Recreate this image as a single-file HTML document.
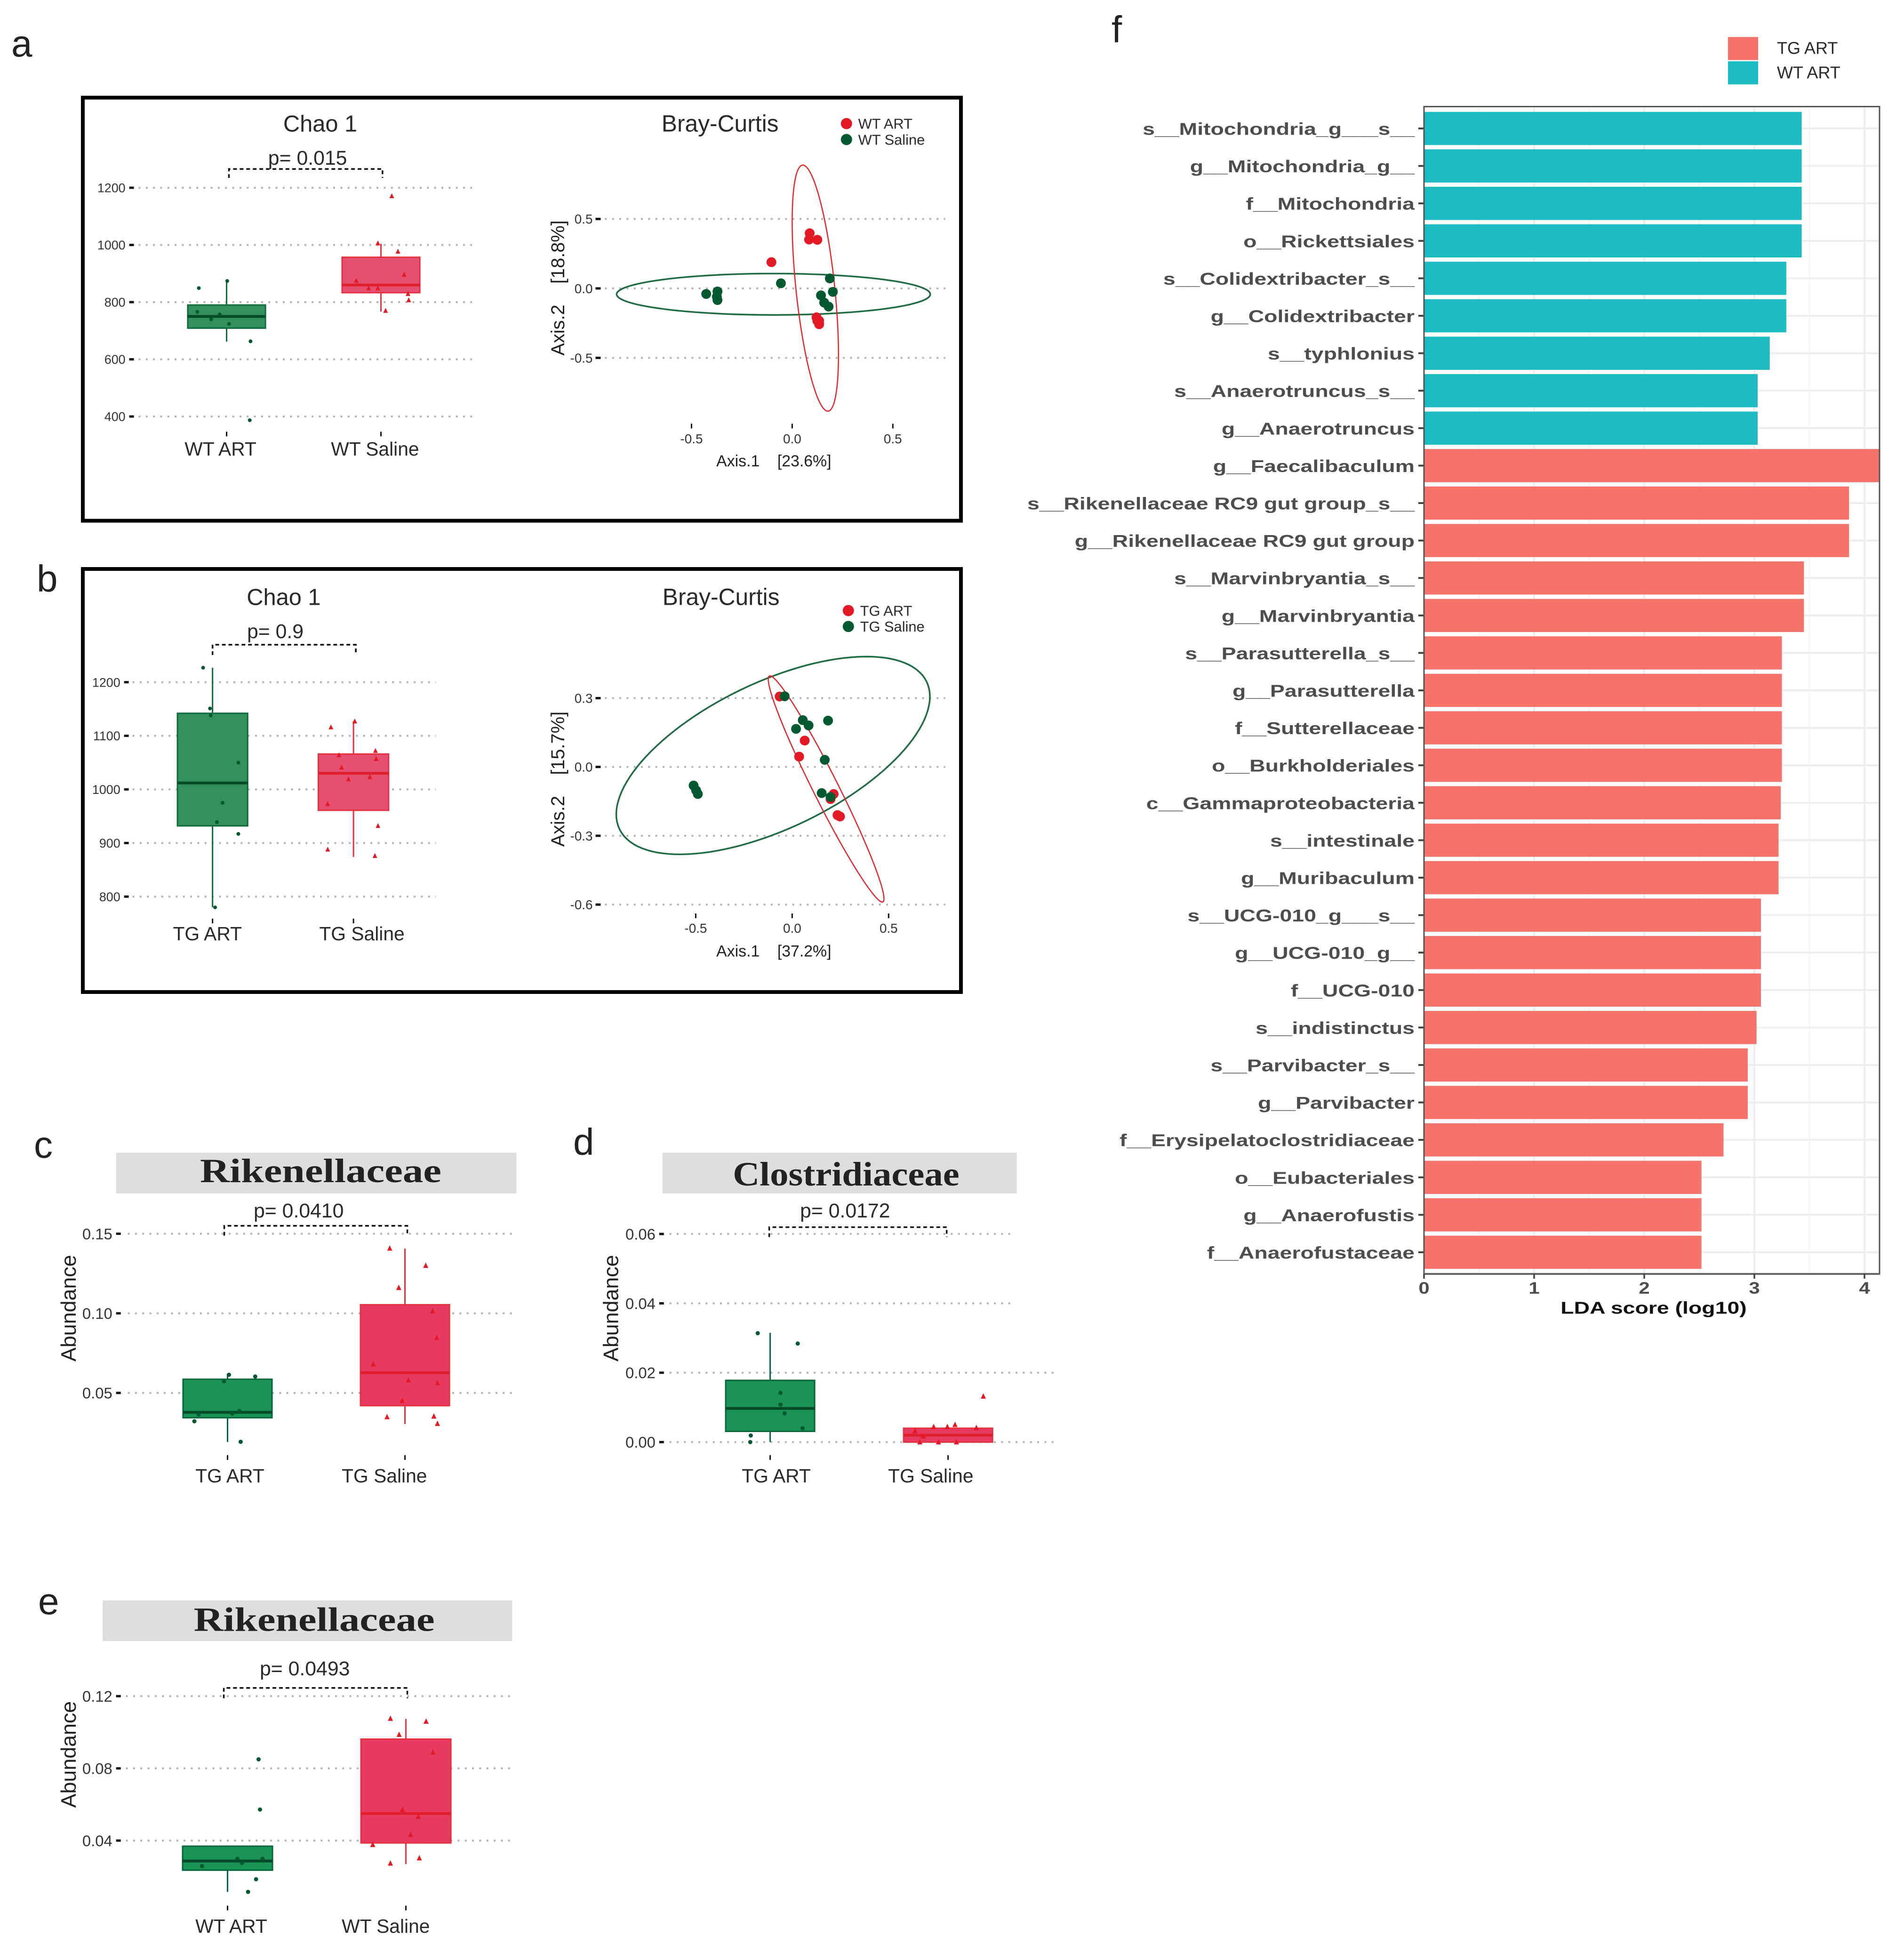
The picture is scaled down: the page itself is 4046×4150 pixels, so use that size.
<!DOCTYPE html>
<html lang="en">
<head>
<meta charset="utf-8">
<title>Microbiome figure</title>
<style>
html,body{margin:0;padding:0;background:#fff}
svg{display:block}
text{font-family:"Liberation Sans",Arial,sans-serif}
.letter{font-size:80px;fill:#222}
.strip-title{font-family:"Liberation Serif",serif;font-size:72px;font-weight:bold;fill:#222}
</style>
</head>
<body>
<svg id="figure" xmlns="http://www.w3.org/2000/svg" width="4046" height="4150" viewBox="0 0 4046 4150">
  <rect x="0" y="0" width="4046" height="4150" fill="#ffffff"/>
  <text class="letter" x="24" y="120">a</text>
  <text class="letter" x="78" y="1257">b</text>
  <text class="letter" x="72" y="2460">c</text>
  <text class="letter" x="1218" y="2454">d</text>
  <text class="letter" x="81" y="3430">e</text>
  <text class="letter" x="2362" y="90">f</text>
  <rect x="176" y="207.5" width="1866" height="899" fill="none" stroke="#000" stroke-width="8"/>
  <rect x="176" y="1209" width="1866" height="899" fill="none" stroke="#000" stroke-width="8"/>
  <rect x="246.7" y="2449.5" width="850.7" height="86.5" fill="#e0dddd"/>
  <text class="strip-title" x="681.5" y="2512" text-anchor="middle" textLength="513" lengthAdjust="spacingAndGlyphs">Rikenellaceae</text>
  <rect x="1407.8" y="2449.5" width="752.9" height="86.5" fill="#e0dddd"/>
  <text class="strip-title" x="1798" y="2519" text-anchor="middle" textLength="481.5" lengthAdjust="spacingAndGlyphs">Clostridiaceae</text>
  <rect x="218" y="3400.7" width="870.4" height="86.6" fill="#e0dddd"/>
  <text class="strip-title" x="667.6" y="3465.4" text-anchor="middle" textLength="512" lengthAdjust="spacingAndGlyphs">Rikenellaceae</text>
  <g id="charts"></g>
</svg>
<script>
// ---------- Panel a: Chao 1 ----------
const aChaoCategories = ['WT ART', 'WT Saline'];
const aChaoTicks = [400, 600, 800, 1000, 1200];
const aChaoTickLabels = ['400', '600', '800', '1000', '1200'];
const aChaoQ1 = [709, 833];
const aChaoMedian = [750, 860];
const aChaoQ3 = [790, 957];
const aChaoWhiskerLow = [662, 767];
const aChaoWhiskerHigh = [878, 1004];
const aChaoGreenValues = [849, 766, 740, 757, 724, 874, 663, 387];
const aChaoGreenJitter = [-0.18, -0.19, -0.10, -0.045, 0.016, 0.004, 0.155, 0.15];
const aChaoRedValues = [1171, 1006, 977, 875, 896, 849, 849, 829, 807, 770];
const aChaoRedJitter = [0.07, -0.02, 0.11, -0.16, 0.15, -0.08, -0.02, 0.175, 0.18, 0.03];

// ---------- Panel a: Bray-Curtis ----------
const aBrayTicksX = [-0.5, 0, 0.5];
const aBrayTickLabelsX = ['-0.5', '0.0', '0.5'];
const aBrayTicksY = [-0.5, 0, 0.5];
const aBrayTickLabelsY = ['-0.5', '0.0', '0.5'];
const aBrayLegend = ['WT ART', 'WT Saline'];
const aBrayRedX = [0.087, 0.084, 0.125, -0.103, 0.121, 0.134, 0.134, 0.125];
const aBrayRedY = [0.397, 0.352, 0.35, 0.189, -0.208, -0.233, -0.258, -0.233];
const aBrayGreenX = [-0.427, -0.371, -0.374, -0.371, -0.056, 0.187, 0.202, 0.143, 0.159, 0.181];
const aBrayGreenY = [-0.04, -0.022, -0.06, -0.084, 0.037, 0.072, -0.025, -0.05, -0.102, -0.131];
const aBrayRedEllipse = {cx: 0.115, cy: 0.002, ax: 0.115, ay: 0.886, rho: -0.54};
const aBrayGreenEllipse = {cx: -0.093, cy: -0.042, ax: 0.779, ay: 0.149, rho: 0};

// ---------- Panel b: Chao 1 ----------
const bChaoCategories = ['TG ART', 'TG Saline'];
const bChaoTicks = [800, 900, 1000, 1100, 1200];
const bChaoTickLabels = ['800', '900', '1000', '1100', '1200'];
const bChaoQ1 = [932, 961];
const bChaoMedian = [1012, 1030];
const bChaoQ3 = [1142, 1066];
const bChaoWhiskerLow = [780, 874];
const bChaoWhiskerHigh = [1227, 1127];
const bChaoGreenValues = [1227, 1151, 1138, 1050, 975, 939, 917, 780];
const bChaoGreenJitter = [-0.067, -0.018, -0.013, 0.183, 0.071, 0.031, 0.183, 0.018];
const bChaoRedValues = [1116, 1127, 1072, 1057, 1064, 1041, 1019, 1023, 973, 932, 888, 876];
const bChaoRedJitter = [-0.16, 0.009, 0.156, 0.161, -0.103, -0.085, -0.036, 0.116, -0.183, 0.174, -0.183, 0.152];

// ---------- Panel b: Bray-Curtis ----------
const bBrayTicksX = [-0.5, 0, 0.5];
const bBrayTickLabelsX = ['-0.5', '0.0', '0.5'];
const bBrayTicksY = [-0.6, -0.3, 0, 0.3];
const bBrayTickLabelsY = ['-0.6', '-0.3', '0.0', '0.3'];
const bBrayLegend = ['TG ART', 'TG Saline'];
const bBrayRedX = [-0.065, 0.065, 0.036, 0.215, 0.199, 0.235, 0.248];
const bBrayRedY = [0.307, 0.115, 0.045, -0.118, -0.14, -0.21, -0.216];
const bBrayGreenX = [-0.039, 0.055, 0.085, 0.02, 0.186, 0.169, 0.153, 0.199, -0.511, -0.498, -0.489];
const bBrayGreenY = [0.308, 0.204, 0.181, 0.166, 0.202, 0.031, -0.114, -0.131, -0.081, -0.102, -0.118];
const bBrayRedEllipse = {cx: 0.176, cy: -0.096, ax: 0.30, ay: 0.493, rho: -0.97};
const bBrayGreenEllipse = {cx: -0.099, cy: 0.05, ax: 0.813, ay: 0.431, rho: 0.595};

// ---------- Panel c ----------
const cCategories = ['TG ART', 'TG Saline'];
const cTicks = [0.05, 0.10, 0.15];
const cTickLabels = ['0.05', '0.10', '0.15'];
const cQ1 = [0.0344, 0.042];
const cMedian = [0.0378, 0.0627];
const cQ3 = [0.0586, 0.1054];
const cWhiskerLow = [0.0192, 0.0305];
const cWhiskerHigh = [0.062, 0.1407];
const cGreenValues = [0.0614, 0.0573, 0.0603, 0.0386, 0.037, 0.0364, 0.0322, 0.0193];
const cGreenJitter = [0.008, -0.02, 0.156, 0.066, 0.027, -0.163, -0.187, 0.074];
const cRedValues = [0.1408, 0.13, 0.1161, 0.1014, 0.0847, 0.0681, 0.058, 0.0563, 0.0451, 0.0349, 0.0353, 0.0307];
const cRedJitter = [-0.086, 0.117, -0.035, 0.156, 0.179, -0.179, 0.019, 0.183, -0.016, -0.101, 0.163, 0.183];

// ---------- Panel d ----------
const dCategories = ['TG ART', 'TG Saline'];
const dTicks = [0, 0.02, 0.04, 0.06];
const dTickLabels = ['0.00', '0.02', '0.04', '0.06'];
const dQ1 = [0.0031, 0];
const dMedian = [0.0097, 0.002];
const dQ3 = [0.0178, 0.004];
const dWhiskerLow = [0, 0];
const dWhiskerHigh = [0.0315, 0.004];
const dGreenValues = [0.0314, 0.0284, 0.0142, 0.0108, 0.0083, 0.004, 0.0019, 0];
const dGreenJitter = [-0.07, 0.155, 0.058, 0.058, 0.081, 0.182, -0.109, -0.112];
const dRedValues = [0.0132, 0.005, 0.0044, 0.0041, 0.0044, 0.0032, 0.0017, 0, 0, 0];
const dRedJitter = [0.198, 0.039, -0.081, 0.159, -0.004, -0.186, -0.14, -0.159, -0.054, 0.047];

// ---------- Panel e ----------
const eCategories = ['WT ART', 'WT Saline'];
const eTicks = [0.04, 0.08, 0.12];
const eTickLabels = ['0.04', '0.08', '0.12'];
const eQ1 = [0.0236, 0.0387];
const eMedian = [0.0287, 0.055];
const eQ3 = [0.0369, 0.0962];
const eWhiskerLow = [0.0116, 0.027];
const eWhiskerHigh = [0.0369, 0.1074];
const eGreenValues = [0.085, 0.0572, 0.0299, 0.0299, 0.0276, 0.0259, 0.0186, 0.0116];
const eGreenJitter = [0.174, 0.182, 0.055, 0.196, 0.081, -0.143, 0.16, 0.115];
const eRedValues = [0.1076, 0.106, 0.0987, 0.0889, 0.0572, 0.0532, 0.0433, 0.0377, 0.0303, 0.0274];
const eRedJitter = [-0.087, 0.113, -0.038, 0.152, -0.02, 0.069, 0.026, -0.186, 0.075, -0.087];

// ---------- Panel f: LDA ----------
const fLabels = ['s__Mitochondria_g___s__', 'g__Mitochondria_g__', 'f__Mitochondria', 'o__Rickettsiales', 's__Colidextribacter_s__', 'g__Colidextribacter', 's__typhlonius', 's__Anaerotruncus_s__', 'g__Anaerotruncus', 'g__Faecalibaculum', 's__Rikenellaceae RC9 gut group_s__', 'g__Rikenellaceae RC9 gut group', 's__Marvinbryantia_s__', 'g__Marvinbryantia', 's__Parasutterella_s__', 'g__Parasutterella', 'f__Sutterellaceae', 'o__Burkholderiales', 'c__Gammaproteobacteria', 's__intestinale', 'g__Muribaculum', 's__UCG-010_g___s__', 'g__UCG-010_g__', 'f__UCG-010', 's__indistinctus', 's__Parvibacter_s__', 'g__Parvibacter', 'f__Erysipelatoclostridiaceae', 'o__Eubacteriales', 'g__Anaerofustis', 'f__Anaerofustaceae'];
const fValues = [3.43, 3.43, 3.43, 3.43, 3.29, 3.29, 3.14, 3.03, 3.03, 4.14, 3.86, 3.86, 3.45, 3.45, 3.25, 3.25, 3.25, 3.25, 3.24, 3.22, 3.22, 3.06, 3.06, 3.06, 3.02, 2.94, 2.94, 2.72, 2.52, 2.52, 2.52];
const fGroups = ['WT ART', 'WT ART', 'WT ART', 'WT ART', 'WT ART', 'WT ART', 'WT ART', 'WT ART', 'WT ART', 'TG ART', 'TG ART', 'TG ART', 'TG ART', 'TG ART', 'TG ART', 'TG ART', 'TG ART', 'TG ART', 'TG ART', 'TG ART', 'TG ART', 'TG ART', 'TG ART', 'TG ART', 'TG ART', 'TG ART', 'TG ART', 'TG ART', 'TG ART', 'TG ART', 'TG ART'];
const fTicks = [0, 1, 2, 3, 4];
const fTickLabels = ['0', '1', '2', '3', '4'];
const fMinorTicks = [0.5, 1.5, 2.5, 3.5];
const fLegendGroups = ['TG ART', 'WT ART'];

const SVG_NS = 'http://www.w3.org/2000/svg';
const root = document.getElementById('charts');

function make(tag, parent) {
  const node = document.createElementNS(SVG_NS, tag);
  parent.appendChild(node);
  return node;
}
function set(node, attrs) {
  for (const k in attrs) node.setAttribute(k, attrs[k]);
  return node;
}
function linearAxis(d0, d1, r0, r1) {
  return function (v) { return r0 + (v - d0) * (r1 - r0) / (d1 - d0); };
}
function write(parent, str, x, y, size, anchor, fill, weight) {
  const t = make('text', parent);
  set(t, {x: x, y: y, 'font-size': size, 'text-anchor': anchor || 'start', fill: fill || '#2a2a2a'});
  if (weight) t.setAttribute('font-weight', weight);
  t.textContent = str;
  return t;
}
function triangle(x, y, s) {
  return (x) + ',' + (y - s * 0.6) + ' ' + (x + s * 0.5) + ',' + (y + s * 0.45) + ' ' + (x - s * 0.5) + ',' + (y + s * 0.45);
}
const dotPattern = '4 11.4';

function drawBoxChart(c) {
  const g = make('g', root);
  
  
  g.setAttribute('transform', c.fit);
  const y = linearAxis(c.domain0, c.domain1, c.range0, c.range1);
  const xc = function (i) { return c.x0 + i * c.xStep; };

  c.ticks.forEach(function (v, i) {
    const grid = make('line', g);
    const right = (c.lowGridRight && v < c.lowGridBelow) ? c.lowGridRight : c.gridRight;
    set(grid, {x1: c.gridLeft, x2: right, y1: y(v), y2: y(v), stroke: '#b3b3b3', 'stroke-width': 4, 'stroke-dasharray': dotPattern});
    
    
    const tick = make('line', g);
    set(tick, {x1: c.tickLeft, x2: c.tickLeft + 10, y1: y(v), y2: y(v), stroke: '#111', 'stroke-width': 5});
    
    
    const lab = write(g, c.tickLabels[i], c.tickLeft - 8, y(v) + c.tickSize * 0.36, c.tickSize, 'end', '#333');
    
    
  });

  [0, 1].forEach(function (i) {
    const stroke = i === 0 ? c.greenStroke : c.redStroke;
    const fill = i === 0 ? c.greenFill : c.redFill;
    const median = i === 0 ? '#034a28' : '#e01f2d';
    const whisker = make('path', g);
    set(whisker, {d: 'M' + xc(i) + ' ' + y(c.whiskerLow[i]) + 'V' + y(c.q1[i]) + 'M' + xc(i) + ' ' + y(c.q3[i]) + 'V' + y(c.whiskerHigh[i]), fill: 'none', stroke: stroke, 'stroke-width': 3});
    
    
    const box = make('rect', g);
    set(box, {x: xc(i) - c.boxWidth / 2, width: c.boxWidth, y: y(c.q3[i]), height: y(c.q1[i]) - y(c.q3[i]), fill: fill, stroke: stroke, 'stroke-width': 3, 'fill-opacity': 0.96});
    
    
    const med = make('line', g);
    set(med, {x1: xc(i) - c.boxWidth / 2, x2: xc(i) + c.boxWidth / 2, y1: y(c.median[i]), y2: y(c.median[i]), stroke: median, 'stroke-width': 6});
    
    
    const tk = make('line', g);
    set(tk, {x1: xc(i), x2: xc(i), y1: c.xTickTop, y2: c.xTickTop + 10, stroke: '#111', 'stroke-width': 3});
    
    
    const cat = write(g, c.categories[i], i === 0 ? c.labelCenterA : c.labelCenterB, c.labelBaseline, 41, 'middle', '#2a2a2a');
    
    
  });

  c.greenValues.forEach(function (v, i) {
    const p = make('circle', g);
    set(p, {cx: xc(0) + c.greenJitter[i] * c.xStep, cy: y(v), r: c.dotRadius, fill: '#00582f'});
    
    
  });
  c.redValues.forEach(function (v, i) {
    const p = make('polygon', g);
    set(p, {points: triangle(xc(1) + c.redJitter[i] * c.xStep, y(v), c.triangleSize), fill: '#e31a25'});
    
    
  });

  const bracket = make('path', g);
  set(bracket, {d: 'M' + c.bracketLeft + ' ' + c.bracketEnd + 'V' + c.bracketTop + 'H' + c.bracketRight + 'V' + c.bracketEnd, fill: 'none', stroke: '#111', 'stroke-width': 3.5, 'stroke-dasharray': '8 6'});
  
  
  const p = write(g, c.pText, c.pCenter, c.pBaseline, 43, 'middle', '#2a2a2a');
  
  

  if (c.title) {
    const t = write(g, c.title, c.titleCenter, c.titleBaseline, 49, 'middle', '#2a2a2a');
    
    
  }
  if (c.yTitleX) {
    const t = write(g, 'Abundance', c.yTitleX, c.yTitleY, 45, 'middle', '#222');
    t.setAttribute('transform', 'rotate(-90 ' + c.yTitleX + ' ' + c.yTitleY + ')');
    
    
  }
}

function ellipsePath(e, x, y) {
  let d = '';
  const phase = Math.acos(e.rho);
  for (let k = 0; k <= 120; k++) {
    const t = k / 120 * Math.PI * 2;
    const px = x(e.cx + e.ax * Math.cos(t));
    const py = y(e.cy + e.ay * Math.cos(t - phase));
    d += (k === 0 ? 'M' : 'L') + px.toFixed(1) + ' ' + py.toFixed(1);
  }
  return d + 'Z';
}

function drawOrdination(c) {
  const g = make('g', root);
  
  
  g.setAttribute('transform', c.fit);
  const x = linearAxis(0, 0.5, c.xZero, c.xHalf);
  const y = linearAxis(0, 0.3, c.yZero, c.yPointThree);

  c.ticksY.forEach(function (v, i) {
    const grid = make('line', g);
    set(grid, {x1: 1292, x2: 2019, y1: y(v), y2: y(v), stroke: '#b3b3b3', 'stroke-width': 4, 'stroke-dasharray': dotPattern});
    
    
    const tick = make('line', g);
    set(tick, {x1: 1272, x2: 1283, y1: y(v), y2: y(v), stroke: '#111', 'stroke-width': 5});
    
    
    const lab = write(g, c.tickLabelsY[i], 1266, y(v) + 10, 28, 'end', '#333');
    
    
  });
  c.ticksX.forEach(function (v, i) {
    const tick = make('line', g);
    set(tick, {x1: x(v), x2: x(v), y1: c.xTickTop, y2: c.xTickTop + 10, stroke: '#111', 'stroke-width': 3});
    
    
    const lab = write(g, c.tickLabelsX[i], x(v), c.xTickBaseline, 28, 'middle', '#333');
    
    
  });

  const eg = make('path', g);
  set(eg, {d: ellipsePath(c.greenEllipse, x, y), fill: 'none', stroke: '#1f6b42', 'stroke-width': 3.5});
  
  
  const er = make('path', g);
  set(er, {d: ellipsePath(c.redEllipse, x, y), fill: 'none', stroke: '#e0262b', 'stroke-width': 2.5});
  
  

  c.redX.forEach(function (v, i) {
    const p = make('circle', g);
    set(p, {cx: x(v), cy: y(c.redY[i]), r: 10.5, fill: '#e31a25'});
    
    
  });
  c.greenX.forEach(function (v, i) {
    const p = make('circle', g);
    set(p, {cx: x(v), cy: y(c.greenY[i]), r: 10.5, fill: '#035a30'});
    
    
  });

  const title = write(g, 'Bray-Curtis', c.titleCenter, c.titleBaseline, 50, 'middle', '#2a2a2a');
  
  

  const xt = write(g, c.xTitle, 1530, c.xTitleBaseline, 34, 'start', '#222');
  
  
  const yt = write(g, c.yTitle, 1205, c.yTitleCenter, 40, 'middle', '#222');
  yt.setAttribute('transform', 'rotate(-90 1205 ' + c.yTitleCenter + ')');
  
  

  c.legend.forEach(function (name, i) {
    const cy = i === 0 ? c.legendY0 : c.legendY1;
    const dot = make('circle', g);
    set(dot, {cx: c.legendX, cy: cy, r: 12, fill: i === 0 ? '#e31a25' : '#035a30'});
    
    
    const lt = write(g, name, c.legendX + 25, cy + 11, 31, 'start', '#2a2a2a');
    
    
  });
}

function drawLda() {
  const g = make('g', root);
  
  
  const left = 3026, right = 3994, top = 226.5, bottom = 2707;
  const x = linearAxis(0, 4, left, 3962);
  const yc = function (i) { return 273 + i * 79.6; };
  const barH = 70.5;

  fMinorTicks.forEach(function (v) {
    const m = make('line', g);
    set(m, {x1: x(v), x2: x(v), y1: top, y2: bottom, stroke: '#f3f3f3', 'stroke-width': 2});
    
    
  });
  fTicks.forEach(function (v) {
    const m = make('line', g);
    set(m, {x1: x(v), x2: x(v), y1: top, y2: bottom, stroke: '#ececec', 'stroke-width': 3.5});
    
    
  });
  fLabels.forEach(function (name, i) {
    const h = make('line', g);
    set(h, {x1: left, x2: right, y1: yc(i), y2: yc(i), stroke: '#eeeeee', 'stroke-width': 4});
    
    
  });
  fLabels.forEach(function (name, i) {
    const bar = make('rect', g);
    set(bar, {x: left, y: yc(i) - barH / 2, width: x(fValues[i]) - left, height: barH, fill: fGroups[i] === 'WT ART' ? '#1dbcc3' : '#f5736b'});
    
    
    const tick = make('line', g);
    set(tick, {x1: left - 12, x2: left, y1: yc(i), y2: yc(i), stroke: '#444', 'stroke-width': 4});
    
    
    const t = write(g, name, 0, 0, 36, 'end', '#4d4d4d', 'bold');
    t.setAttribute('transform', 'translate(3006 ' + (yc(i) + 13.5) + ') scale(1.29 1)');
    
    
  });
  const border = make('rect', g);
  set(border, {x: left, y: top, width: right - left, height: bottom - top, fill: 'none', stroke: '#555', 'stroke-width': 3});
  
  
  const axis = make('line', g);
  set(axis, {x1: left, x2: right, y1: bottom, y2: bottom, stroke: '#666', 'stroke-width': 4});
  
  

  fTicks.forEach(function (v, i) {
    const tk = make('line', g);
    set(tk, {x1: x(v), x2: x(v), y1: bottom, y2: bottom + 10, stroke: '#444', 'stroke-width': 3.5});
    
    
    const t = write(g, fTickLabels[i], 0, 0, 35, 'middle', '#4d4d4d', 'bold');
    t.setAttribute('transform', 'translate(' + x(v) + ' 2749) scale(1.2 1)');
    
    
  });
  const xt = write(g, 'LDA score (log10)', 0, 0, 36, 'middle', '#111', 'bold');
  xt.setAttribute('transform', 'translate(3514 2791.5) scale(1.29 1)');
  
  

  fLegendGroups.forEach(function (name, i) {
    const sy = i === 0 ? 78.6 : 130.3;
    const sw = make('rect', g);
    set(sw, {x: 3672, y: sy, width: 64, height: 49, fill: name === 'WT ART' ? '#1dbcc3' : '#f5736b'});
    
    
    const t = write(g, name, 3776, sy + 36, 36, 'start', '#2a2a2a');
    
    
  });
}

const softGreen = {greenFill: '#2b8a55', greenStroke: '#0f6a3c', redFill: '#e5496a', redStroke: '#e6303f', dotRadius: 4, triangleSize: 10};
const deepGreen = {greenFill: '#118f50', greenStroke: '#04643a', redFill: '#e5325a', redStroke: '#e6303f', dotRadius: 4.5, triangleSize: 11};

drawBoxChart(Object.assign({
  name: 'panel-a-chao', fit: 'scale(0.9949)', categories: aChaoCategories, ticks: aChaoTicks, tickLabels: aChaoTickLabels,
  q1: aChaoQ1, median: aChaoMedian, q3: aChaoQ3, whiskerLow: aChaoWhiskerLow, whiskerHigh: aChaoWhiskerHigh,
  greenValues: aChaoGreenValues, greenJitter: aChaoGreenJitter, redValues: aChaoRedValues, redJitter: aChaoRedJitter,
  domain0: 400, domain1: 1200, range0: 889.6, range1: 401, x0: 484, xStep: 329.7, boxWidth: 166,
  gridLeft: 296, gridRight: 1010, tickLeft: 276, tickSize: 27, xTickTop: 922,
  labelCenterA: 471, labelCenterB: 801, labelBaseline: 973,
  bracketLeft: 489, bracketRight: 817, bracketTop: 361, bracketEnd: 380,
  pText: 'p= 0.015', pCenter: 657, pBaseline: 352, title: 'Chao 1', titleCenter: 684, titleBaseline: 281
}, softGreen));

drawOrdination({
  name: 'panel-a-bray', fit: 'scale(0.9949)', ticksX: aBrayTicksX, tickLabelsX: aBrayTickLabelsX, ticksY: aBrayTicksY, tickLabelsY: aBrayTickLabelsY,
  redX: aBrayRedX, redY: aBrayRedY, greenX: aBrayGreenX, greenY: aBrayGreenY,
  redEllipse: aBrayRedEllipse, greenEllipse: aBrayGreenEllipse, legend: aBrayLegend,
  xZero: 1692, xHalf: 1907, yZero: 616, yPointThree: 527,
  xTickTop: 905, xTickBaseline: 947, titleCenter: 1538, titleBaseline: 281,
  xTitle: 'Axis.1\u00a0\u00a0\u00a0\u00a0[23.6%]', xTitleBaseline: 996,
  yTitle: 'Axis.2\u00a0\u00a0\u00a0\u00a0[18.8%]', yTitleCenter: 615,
  legendX: 1808, legendY0: 264, legendY1: 298
});

drawBoxChart(Object.assign({
  name: 'panel-b-chao', fit: 'translate(0 6.02) scale(0.9949)', categories: bChaoCategories, ticks: bChaoTicks, tickLabels: bChaoTickLabels,
  q1: bChaoQ1, median: bChaoMedian, q3: bChaoQ3, whiskerLow: bChaoWhiskerLow, whiskerHigh: bChaoWhiskerHigh,
  greenValues: bChaoGreenValues, greenJitter: bChaoGreenJitter, redValues: bChaoRedValues, redJitter: bChaoRedJitter,
  domain0: 800, domain1: 1200, range0: 1909, range1: 1451, x0: 454, xStep: 301, boxWidth: 150,
  gridLeft: 283, gridRight: 931, tickLeft: 265, tickSize: 27, xTickTop: 1956,
  labelCenterA: 443, labelCenterB: 773, labelBaseline: 2002,
  bracketLeft: 454, bracketRight: 760, bracketTop: 1371, bracketEnd: 1393,
  pText: 'p= 0.9', pCenter: 588, pBaseline: 1357, title: 'Chao 1', titleCenter: 606, titleBaseline: 1286
}, softGreen));

drawOrdination({
  name: 'panel-b-bray', fit: 'translate(0 6.02) scale(0.9949)', ticksX: bBrayTicksX, tickLabelsX: bBrayTickLabelsX, ticksY: bBrayTicksY, tickLabelsY: bBrayTickLabelsY,
  redX: bBrayRedX, redY: bBrayRedY, greenX: bBrayGreenX, greenY: bBrayGreenY,
  redEllipse: bBrayRedEllipse, greenEllipse: bBrayGreenEllipse, legend: bBrayLegend,
  xZero: 1692, xHalf: 1898, yZero: 1632, yPointThree: 1485,
  xTickTop: 1945, xTickBaseline: 1986, titleCenter: 1540, titleBaseline: 1286,
  xTitle: 'Axis.1\u00a0\u00a0\u00a0\u00a0[37.2%]', xTitleBaseline: 2037,
  yTitle: 'Axis.2\u00a0\u00a0\u00a0\u00a0[15.7%]', yTitleCenter: 1658,
  legendX: 1812, legendY0: 1298, legendY1: 1332
});

drawBoxChart(Object.assign({
  name: 'panel-c', fit: 'translate(0 11.99) scale(0.9949)', categories: cCategories, ticks: cTicks, tickLabels: cTickLabels,
  q1: cQ1, median: cMedian, q3: cQ3, whiskerLow: cWhiskerLow, whiskerHigh: cWhiskerHigh,
  greenValues: cGreenValues, greenJitter: cGreenJitter, redValues: cRedValues, redJitter: cRedJitter,
  domain0: 0.05, domain1: 0.15, range0: 2963, range1: 2623, x0: 486, xStep: 379, boxWidth: 190,
  gridLeft: 273, gridRight: 1098, tickLeft: 248, tickSize: 33, xTickTop: 3096,
  labelCenterA: 491, labelCenterB: 821, labelBaseline: 3154,
  bracketLeft: 479, bracketRight: 870, bracketTop: 2606, bracketEnd: 2627,
  pText: 'p= 0.0410', pCenter: 638, pBaseline: 2588, yTitleX: 162, yTitleY: 2782
}, deepGreen));

drawBoxChart(Object.assign({
  name: 'panel-d', fit: 'translate(0 11.99) scale(0.9949)', categories: dCategories, ticks: dTicks, tickLabels: dTickLabels,
  q1: dQ1, median: dMedian, q3: dQ3, whiskerLow: dWhiskerLow, whiskerHigh: dWhiskerHigh,
  greenValues: dGreenValues, greenJitter: dGreenJitter, redValues: dRedValues, redJitter: dRedJitter,
  domain0: 0, domain1: 0.06, range0: 3068, range1: 2623.5, x0: 1645, xStep: 380, boxWidth: 190,
  gridLeft: 1430, gridRight: 2167, lowGridRight: 2258, lowGridBelow: 0.03, tickLeft: 1408, tickSize: 33, xTickTop: 3096,
  labelCenterA: 1658, labelCenterB: 1988, labelBaseline: 3154,
  bracketLeft: 1643, bracketRight: 2022, bracketTop: 2609, bracketEnd: 2630,
  pText: 'p= 0.0172', pCenter: 1805, pBaseline: 2588, yTitleX: 1320, yTitleY: 2782
}, deepGreen));

drawBoxChart(Object.assign({
  name: 'panel-e', fit: 'translate(0 17.09) scale(0.9949)', categories: eCategories, ticks: eTicks, tickLabels: eTickLabels,
  q1: eQ1, median: eMedian, q3: eQ3, whiskerLow: eWhiskerLow, whiskerHigh: eWhiskerHigh,
  greenValues: eGreenValues, greenJitter: eGreenJitter, redValues: eRedValues, redJitter: eRedJitter,
  domain0: 0.04, domain1: 0.12, range0: 3914, range1: 3605.5, x0: 486, xStep: 381, boxWidth: 192,
  gridLeft: 269, gridRight: 1094, tickLeft: 248, tickSize: 33, xTickTop: 4053,
  labelCenterA: 494, labelCenterB: 824, labelBaseline: 4111,
  bracketLeft: 478, bracketRight: 870, bracketTop: 3588, bracketEnd: 3610,
  pText: 'p= 0.0493', pCenter: 651, pBaseline: 3561, yTitleX: 162, yTitleY: 3730
}, deepGreen));

drawLda();
</script>
</body>
</html>
